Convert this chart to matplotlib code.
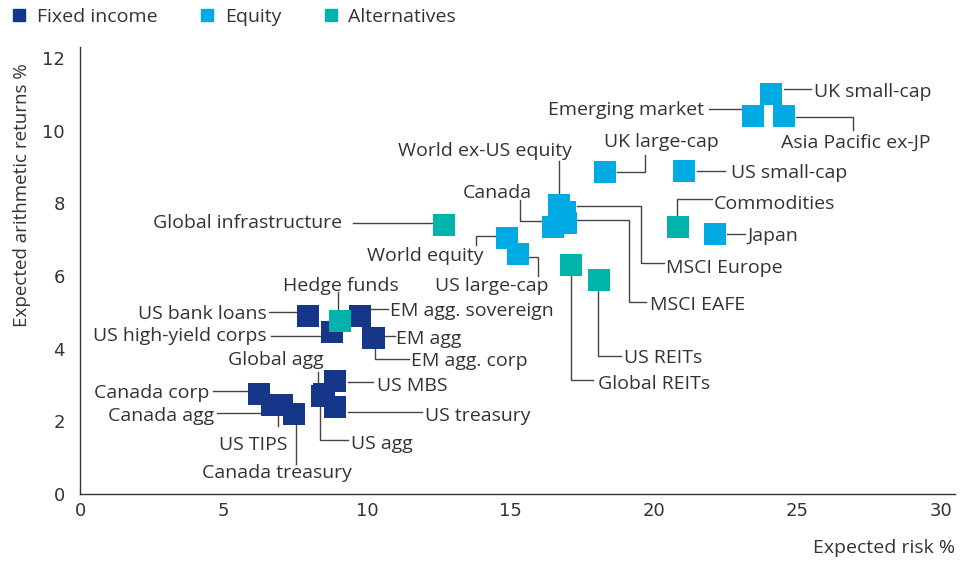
"""Expected risk vs expected arithmetic return by asset class."""

import matplotlib

matplotlib.use("Agg")
import matplotlib.pyplot as plt
import matplotlib.transforms as mtransforms
from matplotlib.lines import Line2D

plt.rcParams["font.family"] = ["Open Sans", "DejaVu Sans"]

# data (expected risk %, expected arithmetic return %)
fixed_names = ["US bank loans", "US high-yield corps", "EM agg. sovereign", "EM agg",
               "EM agg. corp", "Global agg", "US agg", "US MBS", "US treasury",
               "Canada corp", "Canada agg", "US TIPS", "Canada treasury"]
fixed_risk = [7.95, 8.8, 9.75, 10.25, 10.2, 8.5, 8.45, 8.9, 8.9, 6.25, 6.7, 7.05, 7.45]
fixed_ret = [4.9, 4.45, 4.9, 4.3, 4.28, 2.75, 2.7, 3.1, 2.4, 2.75, 2.45, 2.45, 2.2]

equity_names = ["World ex-US equity", "Canada", "MSCI Europe", "MSCI EAFE", "UK large-cap",
                "US small-cap", "Japan", "World equity", "US large-cap", "UK small-cap",
                "Emerging market", "Asia Pacific ex-JP"]
equity_risk = [16.7, 16.5, 16.9, 16.95, 18.3, 21.05, 22.15, 14.9, 15.25, 24.1, 23.45, 24.55]
equity_ret = [7.95, 7.35, 7.75, 7.45, 8.85, 8.9, 7.15, 7.05, 6.6, 11.0, 10.4, 10.4]

alt_names = ["Hedge funds", "Global infrastructure", "Commodities", "Global REITs", "US REITs"]
alt_risk = [9.05, 12.7, 20.85, 17.1, 18.1]
alt_ret = [4.75, 7.4, 7.35, 6.3, 5.9]

C_FIXED = "#16368a"
C_EQUITY = "#00abe4"
C_ALT = "#00b3ab"
TXT = "#333333"
LEAD = "#444444"

# label placement: text offset (px), alignment, leader path offsets (px, y up)
label_layout = {
    "US bank loans": ((-41, 4), "right", [(-11, 4.4), (-39, 4.4)]),
    "US high-yield corps": ((-66, -2), "right", [(-11, -3.7), (-61, -3.7)]),
    "EM agg. sovereign": ((30, 6.7), "left", [(11, 7.4), (28, 7.4)]),
    "EM agg": ((22, 1), "left", [(11, 1.3), (21, 1.3)]),
    "EM agg. corp": ((38, -21), "left", [(2.5, -11), (2.5, -21), (36, -21)]),
    "Global agg": ((0, 36), "right", [(-5.7, 11), (-5.7, 22)]),
    "US agg": ((29, -46.5), "left", [(-2, -11), (-2, -44), (26, -44)]),
    "US MBS": ((42, -3), "left", [(12.6, -1), (37.6, -1)]),
    "US treasury": ((90, -7), "left", [(13, -5.6), (86.7, -5.6)]),
    "Canada corp": ((-50, 3), "right", [(-11, 3.3), (-46.7, 3.3)]),
    "Canada agg": ((-58, -9), "right", [(-11, -8.3), (-55.6, -8.3)]),
    "US TIPS": ((5, -37.6), "right", [(-4, -11), (-4, -21)]),
    "Canada treasury": ((-17, -57), "center", [(2.7, -11), (2.7, -49.6)]),
    "World ex-US equity": ((13, 55.7), "right", [(0, 11), (0, 44)]),
    "Canada": ((-21, 35.7), "right", [(-10.7, 6), (-33, 6), (-33, 26.7)]),
    "MSCI Europe": ((101, -53.4), "left", [(11.7, 6), (76.4, 6), (76.4, -51), (99, -51)]),
    "MSCI EAFE": ((84, -80), "left", [(11, 3.4), (62.6, 3.4), (62.6, -78.3), (80, -78.3)]),
    "UK large-cap": ((56, 32), "center", [(11.7, 0.6), (40, 0.6), (40, 17.3)]),
    "US small-cap": ((46.7, 0), "left", [(12.7, 0), (41, 0)]),
    "Commodities": ((35.6, 25), "left", [(-1, 11), (-1, 27.7), (34, 27.7)]),
    "Japan": ((31.6, 0), "left", [(12, 0), (29.3, 0)]),
    "Global infrastructure": ((-102, 4), "right", [(-12.3, 2.3), (-91.7, 2.3)]),
    "World equity": ((-24.4, -16.7), "right", [(-11, 1.3), (-31, 1.3), (-31, -7.7)]),
    "US large-cap": ((30.6, -30.3), "right", [(11.3, -3), (20.6, -3), (20.6, -22.3)]),
    "Global REITs": ((27.3, -117.3), "left", [(0, -11), (0, -115), (22.7, -115)]),
    "US REITs": ((25, -76), "left", [(-1.7, -11), (-1.7, -76), (21.7, -76)]),
    "UK small-cap": ((42.7, 4.3), "left", [(12.7, 5.7), (39.4, 5.7)]),
    "Emerging market": ((-48.3, 8.4), "right", [(-11.6, 7.4), (-43.3, 7.4)]),
    "Asia Pacific ex-JP": ((71, -25), "center", [(12, -0.7), (68.7, -0.7), (68.7, -14)]),
    "Hedge funds": ((1, 37), "center", [(-1.3, 11), (-1.3, 29)]),
}
TEXT_NUDGE = -2  # px, Open Sans sits a little high with va="center"

fig = plt.figure(figsize=(9.71, 5.61), dpi=100)
ax = fig.add_axes([80 / 971, 67 / 561, 875 / 971, 447 / 561])

msize = 250
ax.scatter(fixed_risk, fixed_ret, s=msize, marker="s", c=C_FIXED, linewidths=0, zorder=3)
ax.scatter(equity_risk, equity_ret, s=msize, marker="s", c=C_EQUITY, linewidths=0, zorder=3)
ax.scatter(alt_risk, alt_ret, s=msize, marker="s", c=C_ALT, linewidths=0, zorder=4)

for names, xs, ys in ((fixed_names, fixed_risk, fixed_ret),
                      (equity_names, equity_risk, equity_ret),
                      (alt_names, alt_risk, alt_ret)):
    for name, x, y in zip(names, xs, ys):
        (tx, ty), ha, path = label_layout[name]
        trans = mtransforms.Affine2D() + mtransforms.ScaledTranslation(x, y, ax.transData)
        px, py = zip(*path)
        ax.plot(px, py, color=LEAD, lw=1, transform=trans, zorder=2, clip_on=False)
        ax.annotate(name, (x, y), xytext=(tx, ty + TEXT_NUDGE), textcoords="offset pixels",
                    ha=ha, va="center", fontsize=14, color=TXT)

ax.set_xlim(0, 30.5)
ax.set_ylim(0, 12.3)
ax.set_xticks([0, 5, 10, 15, 20, 25, 30])
ax.set_yticks([0, 2, 4, 6, 8, 10, 12])
ax.tick_params(length=0, labelsize=13, labelcolor=TXT)
ax.tick_params(axis="x", pad=6)
ax.tick_params(axis="y", pad=11)
for lab in ax.get_xticklabels() + ax.get_yticklabels():
    lab.set_family("DejaVu Sans")
for side in ("top", "right"):
    ax.spines[side].set_visible(False)
for side in ("left", "bottom"):
    ax.spines[side].set_color("#333333")
    ax.spines[side].set_linewidth(1)

fig.text(22 / 971, 1 - 195 / 561, "Expected arithmetic returns %", rotation=90,
         ha="center", va="center", fontsize=13.5, color=TXT)
fig.text(955 / 971, 1 - 548 / 561, "Expected risk %", ha="right", va="center",
         fontsize=14, color=TXT)

handles = [Line2D([], [], marker="s", ls="none", ms=8, color=c)
           for c in (C_FIXED, C_EQUITY, C_ALT)]
fig.legend(handles, ["Fixed income", "Equity", "Alternatives"], loc="upper left",
           bbox_to_anchor=(-0.004, 1.017), ncol=3, frameon=False, fontsize=14,
           handlelength=0.6, handletextpad=0.6, columnspacing=2.25, labelcolor=TXT)

fig.savefig("out.png", dpi=100)
plt.close(fig)
